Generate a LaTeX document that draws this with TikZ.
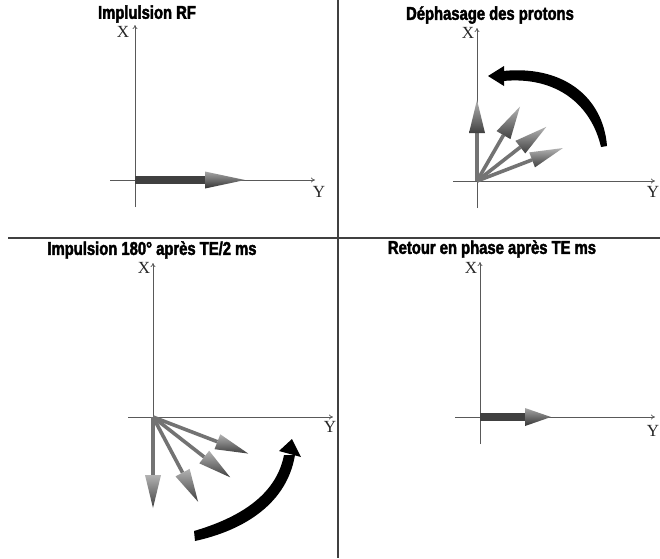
\documentclass[tikz,border=0pt]{standalone}
\usepackage{fontspec}
\setmainfont{Liberation Serif}
\newfontfamily\titlefont{Liberation Sans}[FakeStretch=0.8, FakeBold=2.2]
\usetikzlibrary{arrows.meta}
\tikzset{
  divider/.style={draw=black!75, line width=1.6pt},
  axis/.style={draw=black!65, line width=0.7pt, -{To[length=4pt,width=5pt]}},
  axislabel/.style={font=\fontsize{17}{17}\selectfont, inner sep=0pt, text=black!85},
  titletext/.style={font=\titlefont\bfseries\fontsize{18.5}{19}\selectfont, inner sep=0pt},
  blackband/.style={fill=black},
}
% thin shaded vector: origin, angle, length
\newcommand\thinvec[3]{%
  \begin{scope}[shift={#1}, rotate=#2]
    \fill[black!55] (0,-1.8) rectangle (#3-33,1.8);
    \shade[shading angle=#2, top color=black!30, bottom color=black!75] (#3-33,-8) -- (#3,0) -- (#3-33,8) -- cycle;
  \end{scope}}
% fat horizontal vector: origin, length, head length, head half width
\newcommand\fatvec[4]{%
  \begin{scope}[shift={#1}]
    \shade[top color=black!75, middle color=black!40, bottom color=black!75] (0,-3.6) rectangle (#2-#3,3.6);
    \shade[top color=black!35, bottom color=black!80] (#2-#3,-#4) -- (#2,0) -- (#2-#3,#4) -- cycle;
  \end{scope}}
\begin{document}
\begin{tikzpicture}[x=1pt,y=-1pt]
\useasboundingbox[fill=white] (0,0) rectangle (660,558);
% dividers
\coordinate (vt) at (338,0); \coordinate (vb) at (338,558);
\coordinate (hl) at (8,238); \coordinate (hr) at (660,238);
\draw[divider] (vt) -- (vb);
\draw[divider] (hl) -- (hr);

% ---------- Q1
\node[titletext] (t1) at (147,14) {Implulsion RF};
\coordinate (o1) at (135,180);
\coordinate (a1b) at (135,207); \coordinate (a1t) at (135,25);
\coordinate (a1l) at (110,180); \coordinate (a1r) at (315,180);
\draw[axis] (a1b) -- (a1t);
\draw[axis] (a1l) -- (a1r);
\node[axislabel] (x1) at (123,32) {X};
\node[axislabel] (y1) at (319,192) {Y};
\fatvec{(o1)}{110}{40}{8.5}

% ---------- Q2
\node[titletext] (t2) at (490,15) {Déphasage des protons};
\coordinate (o2) at (477,181);
\coordinate (a2b) at (477,208); \coordinate (a2t) at (477,28);
\coordinate (a2l) at (453,181); \coordinate (a2r) at (655,181);
\draw[axis] (a2b) -- (a2t);
\draw[axis] (a2l) -- (a2r);
\node[axislabel] (x2) at (468,33) {X};
\node[axislabel] (y2) at (653,192) {Y};
\thinvec{(o2)}{90}{81}
\thinvec{(o2)}{60}{86}
\thinvec{(o2)}{38}{88}
\thinvec{(o2)}{21}{92}
\fill[blackband] (607,146) .. controls (603,96) and (562,65) .. (503,71) -- (503,81) .. controls (556,76) and (591,104) .. (601,147) -- cycle;
\fill[blackband] (504,66) -- (488,76) -- (504,86) -- cycle;

% ---------- Q3
\node[titletext] (t3) at (152,250) {Impulsion 180° après TE/2 ms};
\coordinate (o3) at (153,417);
\coordinate (a3t) at (153,263);
\coordinate (a3l) at (128,417); \coordinate (a3r) at (333,417);
\draw[axis] (o3) -- (a3t);
\draw[axis] (a3l) -- (a3r);
\node[axislabel] (x3) at (144,268) {X};
\node[axislabel] (y3) at (330,427) {Y};
\thinvec{(o3)}{-90}{91}
\thinvec{(o3)}{-62}{96}
\thinvec{(o3)}{-38}{98}
\thinvec{(o3)}{-21}{102}
\fill[blackband] (195,541) .. controls (245,530) and (287,503) .. (295,455) -- (284,455) .. controls (276,496) and (238,518) .. (194,531) -- cycle;
\fill[blackband] (279,451) -- (292,439) -- (301,457) -- cycle;

% ---------- Q4
\node[titletext] (t4) at (492,249) {Retour en phase après TE ms};
\coordinate (o4) at (480,417);
\coordinate (a4b) at (480,444); \coordinate (a4t) at (480,262);
\coordinate (a4l) at (455,417); \coordinate (a4r) at (655,417);
\draw[axis] (a4b) -- (a4t);
\draw[axis] (a4l) -- (a4r);
\node[axislabel] (x4) at (471,268) {X};
\node[axislabel] (y4) at (653,431) {Y};
\fatvec{(o4)}{71}{26}{9}
\end{tikzpicture}
\end{document}
